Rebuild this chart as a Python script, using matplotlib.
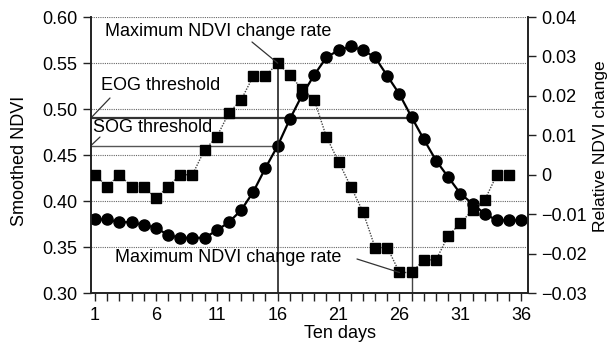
import matplotlib
matplotlib.use("Agg")
import matplotlib.pyplot as plt
import numpy as np

plt.rcParams['font.family'] = ['Liberation Sans', 'DejaVu Sans']
plt.rcParams['font.size'] = 13

# smoothed NDVI, ten-day periods 1..36
days = np.arange(1, 37)
ndvi = [0.380, 0.380, 0.377, 0.377, 0.374, 0.371, 0.363, 0.360, 0.360, 0.360,
        0.368, 0.377, 0.390, 0.410, 0.436, 0.460, 0.489, 0.515, 0.537, 0.556,
        0.564, 0.568, 0.564, 0.556, 0.536, 0.516, 0.491, 0.467, 0.444, 0.426,
        0.408, 0.397, 0.386, 0.379, 0.379, 0.379]

# relative NDVI change, periods 1..35
chg_days = np.arange(1, 36)
chg = [0.0, -0.003, 0.0, -0.003, -0.003, -0.006, -0.003, 0.0, 0.0, 0.0063,
       0.0096, 0.0157, 0.019, 0.025, 0.025, 0.0283, 0.0253, 0.0217, 0.019, 0.0096,
       0.0033, -0.003, -0.0094, -0.0185, -0.0185, -0.0248, -0.0248, -0.0216, -0.0216, -0.0155,
       -0.0123, -0.0089, -0.0064, 0.0, 0.0]

sog = 0.46
eog = 0.49
sog_day = 16
eog_day = 27
max_up_day = 16
max_down_day = 26

W, H = 610, 344
ax_l, ax_r, ax_t, ax_b = 90.7, 528, 17, 293
fig = plt.figure(figsize=(6.1, 3.44), dpi=100)
ax1 = fig.add_axes([ax_l/W, 1-ax_b/H, (ax_r-ax_l)/W, (ax_b-ax_t)/H])
ax2 = ax1.twinx()

xmin, xmax = 0.65, 36.55
ax1.set_xlim(xmin, xmax)
ax1.set_ylim(0.30, 0.60)
ax2.set_ylim(-0.03, 0.04)

ax1.set_yticks(np.arange(0.30, 0.601, 0.05))
ax1.set_yticklabels(['%.2f' % v for v in np.arange(0.30, 0.601, 0.05)])
ax2.set_yticks([-0.03, -0.02, -0.01, 0, 0.01, 0.02, 0.03, 0.04])
ax2.set_yticklabels(['\u22120.03', '\u22120.02', '\u22120.01', '0', '0.01', '0.02', '0.03', '0.04'])
ax1.set_xticks([1, 6, 11, 16, 21, 26, 31, 36])
ax1.set_xticks(days, minor=True)
for a in (ax1, ax2):
    a.tick_params(which='both', direction='out', length=6, width=1, color='#222222', labelsize=13)
    a.spines['top'].set_visible(False)
    for s in ('left', 'right', 'bottom'):
        a.spines[s].set_linewidth(1.2)
        a.spines[s].set_color('#222222')
ax1.tick_params(axis='x', pad=4)

# grid dotted lines at left axis ticks
for v in np.arange(0.35, 0.601, 0.05):
    ax1.axhline(v, color='#666666', lw=0.8, ls=(0, (1, 1)), zorder=0)

# thresholds
ax1.plot([xmin, eog_day], [eog, eog], color='#333333', lw=1.6, zorder=1)
ax1.plot([xmin, sog_day], [sog, sog], color='#555555', lw=1.0, zorder=1)
ax1.plot([eog_day, eog_day], [0.30, eog], color='#444444', lw=1.0, zorder=1)
ax2.plot([sog_day, sog_day], [-0.03, chg[sog_day-1]], color='#222222', lw=1.2, zorder=1)

ax1.plot(days, ndvi, color='black', lw=1.6, marker='o', ms=8, zorder=3)
ax2.plot(chg_days, chg, color='#444444', lw=1.0, ls=(0, (1, 1)),
         marker='s', ms=6.5, mfc='black', mec='black', zorder=3)

aw = ax_r - ax_l
ah = ax_b - ax_t
ax1.set_ylabel('Smoothed NDVI', fontsize=13)
ax1.yaxis.set_label_coords((28-ax_l)/aw, (ax_b-160.5)/ah)
ax2.set_ylabel('Relative NDVI change', fontsize=12.6)
ax2.yaxis.set_label_coords((593-ax_l)/aw, (ax_b-146)/ah)
ax1.set_xlabel('Ten days', fontsize=13)
ax1.xaxis.set_label_coords((340-ax_l)/aw, -0.115)

# annotations
def fig_xy(px, py):
    return (px/W, 1-py/H)

lead = dict(arrowstyle='-', color='#333333', lw=0.9, shrinkA=0, shrinkB=0)
fig.text(*fig_xy(105, 31), 'Maximum NDVI change rate', va='center', ha='left', fontsize=13)
ax2.annotate('', xy=(max_up_day, chg[max_up_day-1]), xytext=fig_xy(252, 42),
             textcoords='figure fraction', arrowprops=lead)
fig.text(*fig_xy(115, 257), 'Maximum NDVI change rate', va='center', ha='left', fontsize=13)
ax2.annotate('', xy=(max_down_day, chg[max_down_day-1]), xytext=fig_xy(357, 259),
             textcoords='figure fraction', arrowprops=lead)
fig.text(*fig_xy(101, 86), 'EOG threshold', va='center', ha='left', fontsize=13)
ax1.annotate('', xy=(xmin, eog), xytext=fig_xy(110, 98),
             textcoords='figure fraction', arrowprops=lead)
fig.text(*fig_xy(93, 128), 'SOG threshold', va='center', ha='left', fontsize=13)
ax1.annotate('', xy=(xmin, sog), xytext=fig_xy(100, 137),
             textcoords='figure fraction', arrowprops=lead)

fig.savefig('out.png', dpi=100)
